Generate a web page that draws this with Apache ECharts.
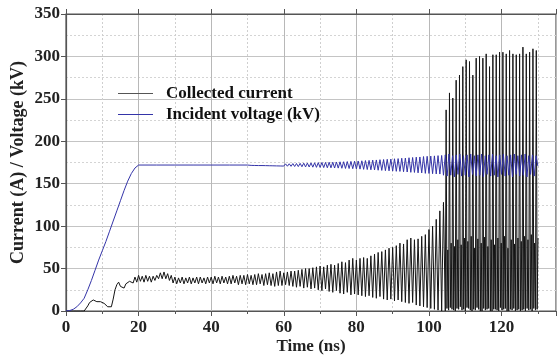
<!DOCTYPE html>
<html>
<head>
<meta charset="utf-8">
<script src="https://cdn.jsdelivr.net/npm/echarts@6/dist/echarts.min.js"></script>
<style>
html,body{margin:0;padding:0;background:#fff;}
#chart{width:558px;height:360px;}
</style>
</head>
<body>
<div id="chart"></div>
<script>
// ---- data ----
// Collected current (A); each segment: start time (ns), sampling step (ns)
const currentEarlyStart = 0, currentEarlyStep = 0.5;       // t = 0 .. 14
const currentEarly = [0,0,0,0,0,0,0,0,0,0,
  0,1,6,10,12,13,11,11,12,11,
  11,9,7,5,4,5,14,25,31];
const currentGrowthStart = 14.5, currentGrowthStep = 0.5;  // t = 14.5 .. 104
const currentGrowth = [
  34,29,30,27,32,33,35,37,33,40,
  34,42,35,41,34,42,35,41,34,41,
  36,42,38,45,38,46,38,44,36,42,
  33,40,32,39,33,40,32,39,33,40,
  32,39,33,40,32,40,33,39,32,40,
  33,40,32,41,33,40,32,41,33,40,
  32,41,32,42,33,41,31,42,32,42,
  31,43,32,42,31,43,31,44,32,43,
  30,44,31,45,30,44,29,46,30,47,
  30,45,31,46,30,47,29,47,28,48,
  29,49,27,50,28,50,26,51,27,52,
  25,53,24,52,26,54,23,55,22,54,
  24,56,21,58,20,57,22,60,19,62,
  20,60,19,62,18,63,17,62,18,65,
  16,67,15,69,17,70,14,72,13,74,
  14,75,12,77,13,80,11,79,10,84,
  9,86,10,84,7,85,6,88,5,90,
  4,96,3,100,2,108,1,118,0,128];
const currentLateStart = 104.5, currentLateStep = 0.23;    // t = 104.5 .. 130
const currentLate = [
  0,237,3,72, 1,257,4,80, 2,251,1,76, 0,272,3,84, 2,278,5,78,
  1,288,2,86, 0,296,4,82, 3,294,1,88, 0,278,2,74, 1,298,4,85,
  2,300,0,80, 0,298,3,87, 1,303,2,76, 3,288,0,84, 0,302,2,78,
  2,302,1,86, 0,305,4,80, 1,305,2,88, 3,303,0,74, 0,307,2,84,
  1,303,3,79, 0,302,1,86, 2,303,0,82, 1,311,2,88, 0,303,3,84,
  1,305,2,90, 0,309,3,80, 1,307,2,86];

// Incident voltage (kV)
const voltageRiseStart = 0, voltageRiseStep = 1;           // t = 0 .. 20
const voltageRise = [0,0.5,2,5,9.5,15,25,36,48,60,71,82,94,106,118,130,142,153,162,168.5,172];
const voltagePlateauStart = 25, voltagePlateauStep = 5;    // t = 25 .. 50
const voltagePlateau = [172,172,172,172,172,172];
const voltageGrowthStart = 50.5, voltageGrowthStep = 0.5;  // t = 50.5 .. 103.5
const voltageGrowth = [
  172.4,171.6,172.5,171.5,172.6,171.4,172.6,171.4,172.7,171.3,
  172.8,171.2,172.9,171.1,173,171,173.1,170.9,173.2,170.8,
  173.4,170.6,173.5,170.5,173.7,170.3,173.8,170.2,174,170,
  174.2,169.8,174.3,169.7,174.5,169.5,174.6,169.3,174.8,169.2,
  175,169,175.1,168.8,175.3,168.7,175.4,168.5,175.6,168.4,
  175.8,168.2,175.9,168,176.1,167.9,176.3,167.7,176.5,167.5,
  176.8,167.2,177,166.9,177.3,166.7,177.5,166.4,177.8,166.2,
  178,165.9,178.3,165.7,178.5,165.4,178.8,165.2,179.1,164.9,
  179.4,164.6,179.6,164.5,180,164.1,180.2,163.8,180.6,163.4,
  180.9,163.3,181.3,162.8,181.5,162.7,182,162.2,182.3,162.1,
  182.6,161.8,182.8,161.5,183.1,161.4,183.3];
const voltageLateStart = 104, voltageLateStep = 0.5;       // t = 104 .. 130
const voltageLate = [
  160,184,159,185,160,183,158,184,161,185,
  159,183,160,184,158,185,161,183,159,184,
  160,185,158,183,161,184,159,185,160,183,
  158,184,161,185,159,183,160,184,158,185,
  161,183,159,184,160,185,158,183,161,184,
  159,183,171];

const seriesNames = ['Collected current', 'Incident voltage (kV)'];
const xAxisTitle = 'Time (ns)';
const yAxisTitle = 'Current (A) / Voltage (kV)';
const xMin = 0, xMax = 135, xStep = 20;
const yMin = 0, yMax = 350, yStep = 50;

// ---- build [t, value] pairs from the sampled segments ----
function toPairs(segments) {
  const out = [];
  segments.forEach(([t0, dt, vals]) => {
    vals.forEach((v, i) => out.push([+(t0 + i * dt).toFixed(3), v]));
  });
  return out;
}
const currentData = toPairs([
  [currentEarlyStart, currentEarlyStep, currentEarly],
  [currentGrowthStart, currentGrowthStep, currentGrowth],
  [currentLateStart, currentLateStep, currentLate]
]);
const voltageData = toPairs([
  [voltageRiseStart, voltageRiseStep, voltageRise],
  [voltagePlateauStart, voltagePlateauStep, voltagePlateau],
  [voltageGrowthStart, voltageGrowthStep, voltageGrowth],
  [voltageLateStart, voltageLateStep, voltageLate]
]);

const FONT = '"Liberation Serif", "Times New Roman", serif';
const axisColor = '#555';
const currentColor = '#151515';
const voltageColor = '#3434a8';

const chart = echarts.init(document.getElementById('chart'), null, {renderer: 'canvas'});
chart.setOption({
  animation: false,
  backgroundColor: '#fff',
  grid: {left: 66, right: 2, top: 14, bottom: 49, outerBoundsMode: 'none', containLabel: false,
    show: true, borderColor: axisColor, borderWidth: 1.2, backgroundColor: 'transparent'},
  legend: {
    show: true, orient: 'vertical', left: 113, top: 78,
    itemWidth: 35, itemHeight: 1.2, itemGap: 0,
    data: [
      {name: seriesNames[0], icon: 'rect', itemStyle: {color: '#555'}},
      {name: seriesNames[1], icon: 'rect', itemStyle: {color: voltageColor}}
    ],
    textStyle: {fontFamily: FONT, fontWeight: 'bold', fontSize: 17, lineHeight: 21, color: '#111', padding: [0, 0, 0, 8]}
  },
  xAxis: [{
    type: 'value', min: xMin, max: xMax, interval: xStep, position: 'bottom',
    name: xAxisTitle, nameLocation: 'middle', nameGap: 27, nameMoveOverlap: false,
    nameTextStyle: {fontFamily: FONT, fontWeight: 'bold', fontSize: 17, color: '#222'},
    axisLine: {show: true, onZero: false, lineStyle: {color: axisColor, width: 1.2}},
    axisTick: {show: true, inside: false, length: 5, lineStyle: {color: axisColor}},
    minorTick: {show: true, splitNumber: 2, length: 3, lineStyle: {color: axisColor}},
    axisLabel: {fontFamily: FONT, fontWeight: 'bold', fontSize: 17, color: '#222', margin: 8,
      formatter: v => (v > 125 ? '' : String(v))},
    splitLine: {show: true, lineStyle: {color: '#b8b8b8', width: 1}},
    minorSplitLine: {show: true, lineStyle: {color: '#cfcfcf', width: 1, type: [2, 2]}}
  }, {
    type: 'value', min: xMin, max: xMax, interval: xStep, position: 'top',
    axisLine: {show: true, onZero: false, lineStyle: {color: axisColor, width: 1.2}},
    axisTick: {show: true, inside: false, length: 5, lineStyle: {color: axisColor}},
    axisLabel: {show: false}, splitLine: {show: false}
  }],
  yAxis: [{
    type: 'value', min: yMin, max: yMax, interval: yStep,
    name: yAxisTitle, nameLocation: 'middle', nameGap: 39, nameRotate: 90, nameMoveOverlap: false,
    nameTextStyle: {fontFamily: FONT, fontWeight: 'bold', fontSize: 18, color: '#222'},
    axisLine: {show: true, onZero: false, lineStyle: {color: axisColor, width: 1.2}},
    axisTick: {show: true, inside: false, length: 5, lineStyle: {color: axisColor}},
    axisLabel: {fontFamily: FONT, fontWeight: 'bold', fontSize: 17, color: '#222', margin: 6},
    splitLine: {show: true, lineStyle: {color: '#c4c4c4', width: 1}},
    minorTick: {show: false, splitNumber: 2},
    minorSplitLine: {show: true, lineStyle: {color: '#d4d4d4', width: 1, type: [2, 2]}}
  }],
  series: [{
    name: seriesNames[0], type: 'line', data: currentData,
    symbol: 'none', showSymbol: false,
    lineStyle: {color: currentColor, width: 1}, itemStyle: {color: '#555'}, z: 2
  }, {
    name: seriesNames[1], type: 'line', data: voltageData,
    symbol: 'none', showSymbol: false,
    lineStyle: {color: voltageColor, width: 1}, itemStyle: {color: voltageColor}, z: 3
  }]
});
</script>
</body>
</html>
